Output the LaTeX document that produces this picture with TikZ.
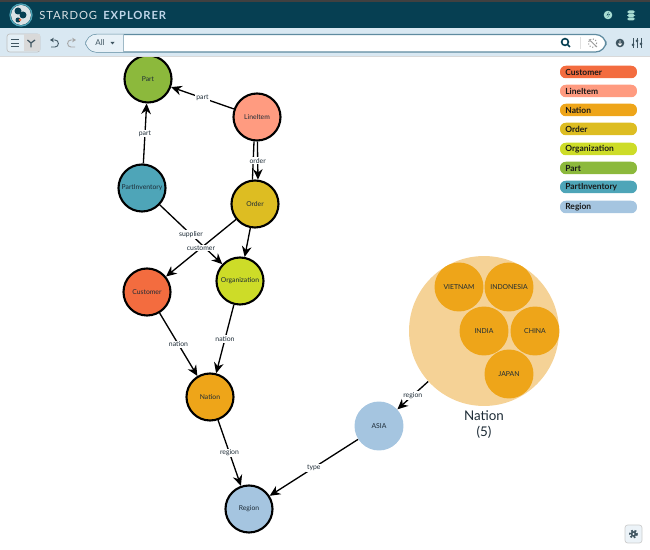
\documentclass[tikz,border=0pt]{standalone}
\usepackage{fontspec}
\setmainfont{Lato}
\newfontfamily\headfont[LetterSpace=8]{Lato}
\usetikzlibrary{arrows.meta}
\definecolor{cCustomer}{HTML}{F36C3F}
\definecolor{cLineItem}{HTML}{FF9B80}
\definecolor{cNation}{HTML}{EEA519}
\definecolor{cOrder}{HTML}{DDBD22}
\definecolor{cOrganization}{HTML}{CDDC28}
\definecolor{cPart}{HTML}{8CB93C}
\definecolor{cPartInventory}{HTML}{4EA5B8}
\definecolor{cRegion}{HTML}{A5C5E0}
\definecolor{cGroup}{HTML}{F5D296}
\definecolor{headbar}{HTML}{063F52}
\definecolor{toolbar}{HTML}{D9E8F2}
\definecolor{inktext}{HTML}{1D2B36}
\definecolor{iconink}{HTML}{3F5561}
\definecolor{barline}{HTML}{5F8BA0}
\definecolor{headicon}{HTML}{A8DCD2}
\tikzset{
  classnode/.style={circle,draw=black,line width=1.2pt,minimum size=0.94cm,inner sep=0pt,font=\fontsize{3.85}{5}\selectfont,text=inktext},
  itemnode/.style={circle,minimum size=0.98cm,inner sep=0pt,font=\fontsize{3.9}{5}\selectfont,text=inktext},
  groupnode/.style={circle,fill=cGroup,minimum size=3cm,inner sep=0pt},
  legendpill/.style={rounded corners=3.3pt,minimum width=1.54cm,minimum height=0.25cm,inner sep=0pt},
  legendtext/.style={anchor=west,inner sep=0pt,font=\fontsize{4.8}{5}\selectfont\bfseries,text=black!90},
  edgeline/.style={draw=black,line width=0.75pt,-{Stealth[length=6pt,width=5.5pt]}},
  edgelabel/.style={fill=white,inner sep=0.6pt,font=\fontsize{3.9}{5}\selectfont,text=inktext},
  iconline/.style={draw=iconink,line width=0.5pt}
}
\begin{document}
\begin{tikzpicture}[x=0.02cm,y=-0.02cm]
    \useasboundingbox (0,0) rectangle (650,550);
    % class graph
    \foreach \n/\x/\y in {Part/148/79,LineItem/257/117,PartInventory/142/188,Order/255/204,
      Organization/240/281,Customer/147/292,Nation/210/397,Region/249/509}
    {
      \node[classnode,fill=c\n] (\n) at (\x,\y) {\n};
    }
    \foreach \a/\b/\t in {LineItem/Part/part,PartInventory/Part/part,PartInventory/Organization/supplier,
      Order/Customer/customer,Customer/Nation/nation,Organization/Nation/nation,Nation/Region/region}
    {
      \draw[edgeline] (\a) -- node[edgelabel]{\t} (\b);
    }
    \draw[draw=black,line width=0.75pt] (LineItem.263) -- (Order.96);
    \draw[edgeline] (LineItem.271) -- node[edgelabel]{order} (Order.83);
    \draw[edgeline] (Order) -- (Organization);
    % expanded group
    \node[groupnode] (NationGroup) at (484,331) {};
    \foreach \n/\m/\x/\y in {vietnam/VIETNAM/459/287,indonesia/INDONESIA/509/287,india/INDIA/484/331,
      china/CHINA/535/331,japan/JAPAN/509/374}
    {
      \node[itemnode,fill=cNation] (\n) at (\x,\y) {\m};
    }
    \node[align=center,inner sep=0pt,text=inktext,font=\fontsize{7.6}{9}\selectfont] (groupcaption) at (484,424.5) {Nation\\(5)};
    \node[itemnode,fill=cRegion] (asia) at (379,426) {ASIA};
    \draw[edgeline] (NationGroup) -- node[edgelabel]{region} (asia);
    \draw[edgeline] (asia) -- node[edgelabel]{type} (Region);
    % legend
    \foreach \n/\y in {Customer/72,LineItem/91,Nation/110,Order/129,Organization/149,Part/168,PartInventory/187,Region/207}
    {
      \node[legendpill,fill=c\n] (legend\n) at (598.5,\y) {};
      \node[legendtext] (legendtext\n) at (565,\y) {\n};
    }
    % header
    \fill[black!75] (0,0) rectangle (650,2);
    \fill[headbar] (0,2) rectangle (650,28);
    \fill[toolbar] (0,28) rectangle (650,57);
    \fill[black!15] (0,56.5) rectangle (650,57);
    \fill[white!85!headbar] (21,15) circle (10);
    \draw[cPartInventory,line width=0.7pt] (21,15) circle (11);
    \fill[headbar] (18,11) circle (3.5) (23,15) circle (3.5) (18,20) circle (2.5);
    \fill[cCustomer] (20,20) circle (1.5);
    \node[anchor=west,inner sep=0pt,text=white!85!headbar,font=\fontsize{6.4}{8}\headfont] (brandname) at (39,15) {STARDOG};
    \node[anchor=west,inner sep=0pt,text=cRegion!70!white,font=\fontsize{6.4}{8}\headfont\bfseries] (brandsub) at (103,15) {EXPLORER};
    \fill[headicon] (608,15) circle (4.3);
    \fill[headbar] (608.8,12) -- (606.5,15.6) -- (609.4,14.4) -- (607.4,18) -- (610,14) -- (607.6,15) -- cycle;
    \fill[headicon,rounded corners=1pt] (627,10.5) rectangle (635,13.5) (627,14) rectangle (635,17) (627,17.5) rectangle (635,20.5);
    % view buttons
    \draw[black!25,fill=toolbar!70!white,rounded corners=1.5pt] (7,34) rectangle (40,52);
    \fill[black!15] (23.5,34.5) rectangle (39.5,51.5);
    \draw[iconline] (11,39.5) -- (19,39.5) (11,43) -- (19,43) (11,46.5) -- (19,46.5);
    \draw[iconink,line width=0.7pt] (31,43) -- (27.5,40) (31,43) -- (35,40) (31,43) -- (31,47.5);
    \draw[iconline,-{Stealth[length=2.2pt,width=2.6pt]}] (51,47) -- (55,47) .. controls (59.5,47) and (59.5,40) .. (55,40) -- (50,40);
    \draw[iconline,draw=black!35,-{Stealth[length=2.2pt,width=2.6pt]}] (75,47) -- (71,47) .. controls (66.5,47) and (66.5,40) .. (71,40) -- (76,40);
    % search bar
    \draw[barline,fill=white,line width=0.7pt,rounded corners=6pt] (86,34.5) rectangle (606,52);
    \begin{scope}
      \clip[rounded corners=6pt] (86,34.5) rectangle (606,52);
      \fill[toolbar!60!white] (86,34.5) rectangle (123,52);
    \end{scope}
    \draw[barline!60,line width=0.5pt] (123,34.5) -- (123,52);
    \node[inner sep=0pt,text=iconink,font=\fontsize{4.6}{5}\selectfont] (scopeall) at (100,43) {All};
    \fill[iconink] (110.5,42) -- (114.5,42) -- (112.5,44.5) -- cycle;
    \draw[headbar,line width=0.9pt] (565,42) circle (3.4) (567.5,44.5) -- (570,47);
    \draw[black!12,line width=0.5pt] (580,37) -- (580,49);
    \draw[black!40,line width=0.6pt,densely dotted] (592.5,43) circle (4.2);
    \draw[black!40,line width=0.5pt] (589,39.5) -- (597,47);
    \fill[iconink] (620,43) circle (4.3);
    \draw[white,line width=0.5pt] (620,40.5) -- (620,45) (618.3,43.6) -- (620,45.3) -- (621.7,43.6);
    \draw[iconink,line width=0.35pt] (633,38.5) -- (633,48) (637,38.5) -- (637,48) (641,38.5) -- (641,48);
    \fill[iconink] (633,45) circle (1.5) (637,41) circle (1.5) (641,44) circle (1.5);
    % settings button
    \draw[black!20,fill=toolbar!50!white,rounded corners=1.5pt] (625,525) rectangle (642,543);
    \draw[iconink,line width=1pt,densely dotted] (633.5,534) circle (3.6);
    \fill[iconink] (633.5,534) circle (2.8);
    \fill[toolbar!50!white] (633.5,534) circle (1.2);
  \end{tikzpicture}
\end{document}
